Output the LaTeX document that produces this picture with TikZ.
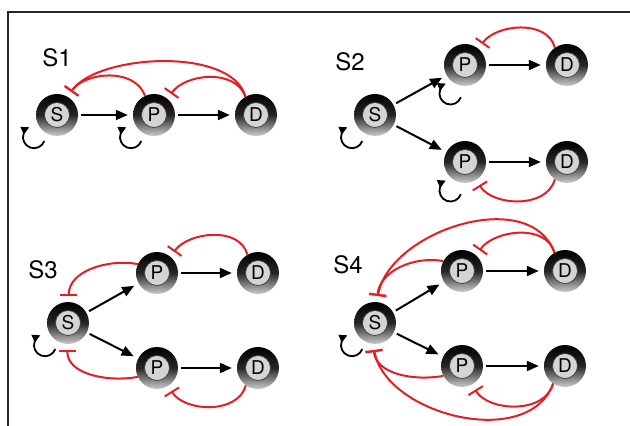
\documentclass[tikz,border=0pt]{standalone}
\usepackage{fontspec}
\setmainfont{TeX Gyre Heros}
\usetikzlibrary{arrows.meta}
\definecolor{inhibred}{RGB}{230,30,36}
\definecolor{corefill}{RGB}{212,212,214}

\tikzset{
  species/.style={circle, minimum size=42pt, inner sep=0pt,
    top color=black, bottom color=black!20, middle color=black!85,
    path picture={\draw[fill=corefill, draw=black!75, line width=0.7pt]
      (path picture bounding box.center) circle (12.5pt);},
    font=\fontsize{19}{22}\selectfont},
  act/.style={-{Triangle[length=12pt,width=10pt]}, line width=2pt, shorten >=5pt, shorten <=3pt},
  inhib/.style={-{Bar[width=17pt]}, line width=2pt, inhibred, shorten >=6pt},
  loopback/.style={-{Triangle[length=8pt,width=8pt]}, line width=1.8pt},
  panel/.style={font=\fontsize{24}{28}\selectfont}
}
\newcommand{\selfloop}[2]{%
  \draw[loopback] ([shift={(#2:32)}]#1.center) ++(-20:11)
    arc[start angle=-20, end angle=-245, radius=11];}

\begin{document}
\begin{tikzpicture}[x=1pt, y=1pt]
\useasboundingbox (0,0) rectangle (630,426);

% frame
\draw[line width=2pt, black!85] (8,0) -- (8,414) -- (630,414);

% S1
\node[panel] (lblS1) at (57,368) {S1};
\node[species] (S1s) at (57,311) {S};
\node[species] (S1p) at (154,311) {P};
\node[species] (S1d) at (256,311) {D};
\draw[act] (S1s) -- (S1p);
\draw[act] (S1p) -- (S1d);
\selfloop{S1s}{224}
\selfloop{S1p}{224}
\draw[inhib] (S1d.120) to[out=105, in=55, looseness=0.75] (S1s.60);
\draw[inhib] (S1p.115) to[out=110, in=55] (S1s.60);
\draw[inhib] (S1d.120) to[out=110, in=55] (S1p.50);

% S2
\node[panel] (lblS2) at (350,364) {S2};
\node[species] (S2s) at (375,311) {S};
\node[species] (S2pt) at (465,361) {P};
\node[species] (S2dt) at (567,361) {D};
\node[species] (S2pb) at (465,264) {P};
\node[species] (S2db) at (567,264) {D};
\draw[act] (S2s) -- (S2pt);
\draw[act] (S2s) -- (S2pb);
\draw[act] (S2pt) -- (S2dt);
\draw[act] (S2pb) -- (S2db);
\selfloop{S2s}{224}
\selfloop{S2pt}{243}
\selfloop{S2pb}{243}
\draw[inhib] (S2dt.125) to[out=105, in=55] (S2pt.50);
\draw[inhib] (S2db.235) to[out=-105, in=-58] (S2pb.-58);

% S3
\node[panel] (lblS3) at (43,156) {S3};
\node[species] (S3s) at (68,103) {S};
\node[species] (S3pt) at (157,153) {P};
\node[species] (S3dt) at (258,153) {D};
\node[species] (S3pb) at (157,58) {P};
\node[species] (S3db) at (258,58) {D};
\draw[act] (S3s) -- (S3pt);
\draw[act] (S3s) -- (S3pb);
\draw[act] (S3pt) -- (S3dt);
\draw[act] (S3pb) -- (S3db);
\selfloop{S3s}{224}
\draw[inhib] (S3dt.120) to[out=105, in=55] (S3pt.50);
\draw[inhib] (S3pt.155) to[out=170, in=90] (S3s.88);
\draw[inhib] (S3pb.205) to[out=190, in=-90] (S3s.-92);
\draw[inhib] (S3db.235) to[out=-105, in=-58] (S3pb.-58);

% S4
\node[panel] (lblS4) at (348,161) {S4};
\node[species] (S4s) at (375,103) {S};
\node[species] (S4pt) at (462,155) {P};
\node[species] (S4dt) at (565,155) {D};
\node[species] (S4pb) at (462,60) {P};
\node[species] (S4db) at (565,60) {D};
\draw[act] (S4s) -- (S4pt);
\draw[act] (S4s) -- (S4pb);
\draw[act] (S4pt) -- (S4dt);
\draw[act] (S4pb) -- (S4db);
\selfloop{S4s}{224}
\draw[inhib] (S4dt.120) to[out=105, in=55] (S4pt.48);
\draw[inhib] (S4pt.152) to[out=170, in=85] (S4s.85);
\draw[inhib] (S4dt.120) to[out=110, in=80, looseness=1.0] (S4s.85);
\draw[inhib] (S4pb.208) to[out=190, in=-85] (S4s.-95);
\draw[inhib] (S4db.236) to[out=-110, in=-80, looseness=1.0] (S4s.-95);
\draw[inhib] (S4db.236) to[out=-105, in=-58] (S4pb.-62);
\end{tikzpicture}
\end{document}
